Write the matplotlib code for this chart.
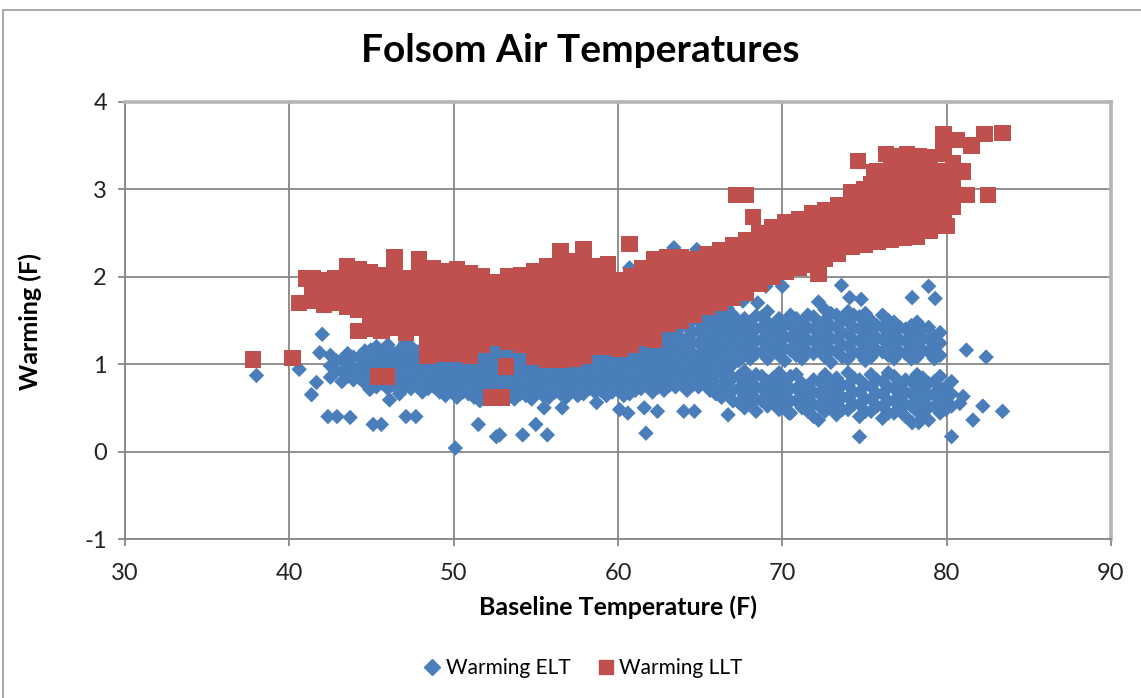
import matplotlib
matplotlib.use("Agg")
import matplotlib.pyplot as plt
from matplotlib.patches import Rectangle
from matplotlib.lines import Line2D

plt.rcParams['font.family'] = ['Lato', 'DejaVu Sans']
plt.rcParams['axes.unicode_minus'] = False

# ---------------- data ----------------
title = "Folsom Air Temperatures"
xlabel = "Baseline Temperature (F)"
ylabel = "Warming (F)"
series_names = ["Warming ELT", "Warming LLT"]
xticks = [30, 40, 50, 60, 70, 80, 90]
yticks = [-1, 0, 1, 2, 3, 4]

# Warming LLT (red squares): columns of (baseline temperature, [warming values])
llt_columns = [
    (41.4, [1.72, 1.88, 1.98]),
    (42.1, [1.68, 1.82, 1.96]),
    (42.8, [1.70, 1.85, 1.98]),
    (43.5, [1.66, 1.80, 1.95, 2.12]),
    (44.2, [1.38, 1.62, 1.78, 1.92, 2.08]),
    (44.9, [1.40, 1.56, 1.72, 1.88, 2.05]),
    (45.6, [1.38, 1.52, 1.68, 1.84, 2.02]),
    (46.4, [1.42, 1.58, 1.74, 1.90, 2.05, 2.22]),
    (47.1, [1.36, 1.52, 1.68, 1.84, 1.98]),
    (47.9, [1.42, 1.58, 1.74, 1.90, 2.06, 2.20]),
    (48.4, [1.10, 1.28]),
    (48.7, [1.45, 1.62, 1.78, 1.95, 2.10]),
    (49.3, [1.12, 1.30]),
    (49.5, [1.45, 1.60, 1.76, 1.92, 2.06]),
    (50.2, [1.12, 1.28, 1.44, 1.60, 1.76, 1.92, 2.08]),
    (51.0, [1.10, 1.26, 1.42, 1.58, 1.74, 1.90, 2.04]),
    (51.7, [1.22, 1.38, 1.54, 1.70, 1.86, 2.00]),
    (52.5, [1.30, 1.46, 1.62, 1.78, 1.94]),
    (53.3, [1.25, 1.40, 1.56, 1.72, 1.88, 2.00]),
    (54.1, [1.22, 1.38, 1.54, 1.70, 1.86, 2.02]),
    (54.9, [1.08, 1.24, 1.40, 1.56, 1.72, 1.88, 2.06]),
    (55.7, [1.05, 1.20, 1.36, 1.52, 1.68, 1.84, 2.00, 2.12]),
    (56.5, [1.05, 1.20, 1.36, 1.52, 1.68, 1.84, 2.00, 2.16, 2.29]),
    (57.3, [1.06, 1.22, 1.38, 1.54, 1.70, 1.86, 2.02, 2.18]),
    (57.9, [1.10, 1.26, 1.42, 1.58, 1.74, 1.90, 2.06, 2.20, 2.31]),
    (58.6, [1.20, 1.36, 1.52, 1.68, 1.84, 2.00, 2.12]),
    (59.4, [1.20, 1.36, 1.52, 1.68, 1.84, 2.00, 2.14]),
    (60.1, [1.17, 1.32, 1.48, 1.64, 1.80, 1.96]),
    (60.8, [1.22, 1.38, 1.54, 1.70, 1.86, 2.00]),
    (61.5, [1.30, 1.46, 1.62, 1.78, 1.94, 2.10]),
    (62.2, [1.28, 1.44, 1.60, 1.76, 1.92, 2.08, 2.20]),
    (63.0, [1.46, 1.62, 1.78, 1.94, 2.10, 2.22]),
    (63.8, [1.50, 1.66, 1.82, 1.98, 2.14, 2.22]),
    (64.6, [1.56, 1.72, 1.88, 2.04, 2.20]),
    (65.4, [1.65, 1.80, 1.96, 2.12, 2.26]),
    (66.2, [1.70, 1.86, 2.02, 2.18, 2.30]),
    (67.0, [1.76, 1.92, 2.08, 2.24, 2.36]),
    (67.8, [1.82, 1.98, 2.14, 2.30, 2.42]),
    (68.6, [1.92, 2.08, 2.24, 2.40, 2.50]),
    (69.4, [2.00, 2.16, 2.32, 2.48, 2.56]),
    (70.2, [2.06, 2.22, 2.38, 2.54, 2.62]),
    (71.0, [2.10, 2.26, 2.42, 2.58, 2.66]),
    (71.8, [2.14, 2.30, 2.46, 2.62, 2.72]),
    (72.6, [2.20, 2.36, 2.52, 2.68, 2.76]),
    (73.4, [2.26, 2.42, 2.58, 2.74, 2.82]),
    (74.2, [2.34, 2.50, 2.66, 2.82, 2.96]),
    (75.0, [2.36, 2.52, 2.68, 2.84, 3.00]),
    (75.8, [2.40, 2.56, 2.72, 2.88, 3.04, 3.20]),
    (76.6, [2.42, 2.58, 2.74, 2.90, 3.06, 3.22]),
    (77.4, [2.44, 2.60, 2.76, 2.92, 3.08, 3.22]),
    (78.2, [2.46, 2.62, 2.78, 2.94, 3.10, 3.24]),
    (79.0, [2.52, 2.68, 2.84, 3.00, 3.16, 3.30]),
    (79.8, [2.72, 2.88, 3.04, 3.20, 3.40, 3.55]),
    (80.4, [2.80, 2.96, 3.12, 3.30]),
]
llt_x_extra = [37.8, 40.2, 40.6, 41.0, 45.4, 45.9, 52.3, 52.9, 53.2, 60.7,
               67.2, 67.8, 68.2, 72.2, 74.6, 75.6, 75.4, 80.0, 82.5, 83.4,
               82.3, 81.5, 81.2, 81.0, 79.8, 80.6, 76.3, 77.0, 77.6, 78.3,
               78.8]
llt_y_extra = [1.05, 1.07, 1.70, 1.98, 0.86, 0.86, 0.62, 0.62, 0.97, 2.37,
               2.93, 2.93, 2.68, 2.03, 3.32, 3.19, 3.06, 2.58, 2.93, 3.64,
               3.63, 3.50, 2.93, 3.20, 3.63, 3.56, 3.40, 3.38, 3.40, 3.38,
               3.37]

# Warming ELT (blue diamonds): columns of (baseline temperature, [warming values])
elt_columns = [
    (42.5, [0.85, 0.98, 1.10]),
    (43.2, [0.80, 0.92, 1.05]),
    (43.9, [0.82, 0.95, 1.08]),
    (44.6, [0.78, 0.90, 1.02, 1.15]),
    (45.3, [0.74, 0.86, 0.98, 1.10, 1.20]),
    (46.0, [0.72, 0.84, 0.96, 1.08, 1.22]),
    (46.7, [0.66, 0.80, 0.92, 1.04, 1.16]),
    (47.4, [0.72, 0.84, 0.96, 1.08, 1.20]),
    (48.1, [0.68, 0.80, 0.92, 1.04, 1.18]),
    (48.8, [0.74, 0.86, 0.98, 1.10, 1.24]),
    (49.5, [0.64, 0.76, 0.88, 1.00, 1.12]),
    (50.2, [0.62, 0.74, 0.86, 0.98, 1.10]),
    (50.9, [0.66, 0.78, 0.90, 1.02, 1.14]),
    (51.6, [0.58, 0.70, 0.82, 0.94, 1.06, 1.18]),
    (52.3, [0.62, 0.74, 0.86, 0.98, 1.10, 1.22]),
    (53.0, [0.66, 0.78, 0.90, 1.02, 1.14]),
    (53.7, [0.60, 0.72, 0.84, 0.96, 1.08, 1.20]),
    (54.4, [0.64, 0.76, 0.88, 1.00, 1.12]),
    (55.1, [0.68, 0.80, 0.92, 1.04]),
    (55.8, [0.62, 0.74, 0.86, 0.98, 1.10]),
    (56.5, [0.66, 0.78, 0.90, 1.02, 1.14]),
    (57.2, [0.70, 0.82, 0.94, 1.06]),
    (57.9, [0.66, 0.78, 0.90, 1.02, 1.14]),
    (58.6, [0.68, 0.80, 0.92, 1.04, 1.16]),
    (59.3, [0.64, 0.76, 0.88, 1.00, 1.12]),
    (60.0, [0.70, 0.82, 0.94, 1.06]),
    (60.7, [0.66, 0.78, 0.90, 1.02, 1.14]),
    (61.4, [0.72, 0.84, 0.96, 1.08, 1.20]),
    (62.1, [0.68, 0.80, 0.92, 1.04, 1.16, 1.30]),
    (62.8, [0.70, 0.82, 0.94, 1.06, 1.18, 1.32, 1.45]),
    (63.5, [0.74, 0.86, 0.98, 1.10, 1.22, 1.36, 1.48]),
    (64.2, [0.70, 0.82, 0.94, 1.06, 1.18, 1.30, 1.44, 1.56]),
    (64.9, [0.74, 0.86, 0.98, 1.10, 1.24, 1.38, 1.50]),
    (65.6, [0.70, 0.82, 0.94, 1.06, 1.20, 1.34, 1.48, 1.62]),
    (66.3, [0.62, 0.76, 0.90, 1.04, 1.18, 1.32, 1.46, 1.60]),
    (67.0, [0.58, 0.70, 0.84, 1.00, 1.14, 1.28, 1.42, 1.56]),
    (67.7, [0.50, 0.64, 0.78, 0.92, 1.10, 1.24, 1.38, 1.52]),
    (68.4, [0.46, 0.60, 0.74, 0.88, 1.12, 1.26, 1.40, 1.55]),
    (69.1, [0.52, 0.66, 0.80, 1.06, 1.20, 1.34, 1.48, 1.60]),
    (69.8, [0.48, 0.62, 0.76, 0.90, 1.10, 1.24, 1.38, 1.52]),
    (70.5, [0.44, 0.58, 0.72, 0.86, 1.16, 1.30, 1.44, 1.56]),
    (71.2, [0.50, 0.64, 0.78, 1.06, 1.20, 1.34, 1.48]),
    (71.9, [0.40, 0.54, 0.68, 0.82, 1.12, 1.26, 1.40, 1.54]),
    (72.6, [0.46, 0.60, 0.74, 0.88, 1.08, 1.22, 1.36, 1.50, 1.62]),
    (73.3, [0.42, 0.56, 0.70, 0.84, 1.14, 1.28, 1.42, 1.56]),
    (74.0, [0.48, 0.62, 0.76, 0.90, 1.06, 1.20, 1.34, 1.48, 1.60]),
    (74.7, [0.40, 0.54, 0.68, 0.82, 1.12, 1.26, 1.40, 1.54]),
    (75.4, [0.46, 0.60, 0.74, 0.88, 1.08, 1.22, 1.36, 1.50]),
    (76.1, [0.38, 0.52, 0.66, 0.80, 1.14, 1.28, 1.42, 1.56]),
    (76.8, [0.44, 0.58, 0.72, 0.86, 1.06, 1.20, 1.34, 1.48]),
    (77.5, [0.40, 0.54, 0.68, 0.82, 1.12, 1.26, 1.40]),
    (78.2, [0.46, 0.60, 0.74, 0.88, 1.08, 1.22, 1.36, 1.48]),
    (78.9, [0.36, 0.50, 0.64, 0.78, 1.14, 1.28, 1.42]),
    (79.6, [0.44, 0.58, 0.72, 0.86, 1.10, 1.24, 1.36]),
    (80.3, [0.52, 0.66, 0.80]),
]
# staggered ELT points lying between the columns above
elt_columns_b = [
    (42.85, [0.92, 1.04]),
    (43.55, [0.86, 0.99, 1.12]),
    (44.25, [0.84, 0.96, 1.08]),
    (44.95, [0.80, 0.92, 1.04, 1.16]),
    (45.65, [0.78, 0.90, 1.02, 1.14]),
    (46.35, [0.76, 0.88, 1.00, 1.12]),
    (47.05, [0.74, 0.86, 0.98, 1.10, 1.24]),
    (47.75, [0.78, 0.90, 1.02, 1.14]),
    (48.45, [0.72, 0.84, 0.96, 1.08, 1.20]),
    (49.15, [0.68, 0.80, 0.92, 1.04, 1.16]),
    (49.85, [0.70, 0.82, 0.94, 1.06]),
    (50.55, [0.68, 0.80, 0.92, 1.04, 1.16]),
    (51.25, [0.62, 0.74, 0.86, 0.98, 1.10]),
    (51.95, [0.66, 0.78, 0.90, 1.02, 1.14]),
    (52.65, [0.68, 0.80, 0.92, 1.04, 1.16]),
    (53.35, [0.62, 0.74, 0.86, 0.98, 1.10]),
    (54.05, [0.66, 0.78, 0.90, 1.02, 1.14]),
    (54.75, [0.60, 0.72, 0.84, 0.96, 1.08]),
    (55.45, [0.64, 0.76, 0.88, 1.00, 1.12]),
    (56.15, [0.68, 0.80, 0.92, 1.04]),
    (56.85, [0.62, 0.74, 0.86, 0.98, 1.10]),
    (57.55, [0.64, 0.76, 0.88, 1.00, 1.12]),
    (58.25, [0.72, 0.84, 0.96, 1.08, 1.20]),
    (58.95, [0.70, 0.82, 0.94, 1.06]),
    (59.65, [0.68, 0.80, 0.92, 1.04, 1.16]),
    (60.35, [0.64, 0.76, 0.88, 1.00, 1.12]),
    (61.05, [0.70, 0.82, 0.94, 1.06, 1.18]),
    (61.75, [0.76, 0.88, 1.00, 1.12, 1.24]),
    (62.45, [0.74, 0.86, 0.98, 1.10, 1.24, 1.38]),
    (63.15, [0.76, 0.88, 1.00, 1.12, 1.26, 1.40]),
    (63.85, [0.80, 0.92, 1.04, 1.16, 1.28, 1.42, 1.54]),
    (64.55, [0.76, 0.88, 1.00, 1.12, 1.24, 1.36, 1.50]),
    (65.25, [0.78, 0.90, 1.02, 1.16, 1.30, 1.44, 1.58]),
    (65.95, [0.66, 0.78, 0.88, 1.00, 1.12, 1.26, 1.40, 1.54]),
    (66.65, [0.68, 0.80, 0.94, 1.08, 1.22, 1.36, 1.50, 1.64]),
    (67.35, [0.56, 0.72, 0.86, 1.04, 1.18, 1.32, 1.46]),
    (68.05, [0.56, 0.70, 0.84, 1.06, 1.18, 1.32, 1.46]),
    (68.75, [0.58, 0.72, 0.86, 1.14, 1.28, 1.42, 1.54]),
    (69.45, [0.56, 0.70, 0.84, 1.16, 1.30, 1.44]),
    (70.15, [0.54, 0.68, 0.82, 1.04, 1.18, 1.32, 1.46]),
    (70.85, [0.58, 0.72, 0.88, 1.10, 1.24, 1.38, 1.52]),
    (71.55, [0.46, 0.60, 0.74, 1.14, 1.28, 1.42, 1.56]),
    (72.25, [0.52, 0.66, 0.80, 1.16, 1.30, 1.44]),
    (72.95, [0.50, 0.64, 0.78, 1.02, 1.16, 1.30, 1.44, 1.58]),
    (73.65, [0.48, 0.62, 0.76, 1.08, 1.22, 1.36, 1.50]),
    (74.35, [0.54, 0.68, 0.84, 1.14, 1.28, 1.42, 1.56]),
    (75.05, [0.46, 0.60, 0.76, 1.04, 1.18, 1.32, 1.46, 1.58]),
    (75.75, [0.52, 0.66, 0.82, 1.16, 1.30, 1.44]),
    (76.45, [0.44, 0.58, 0.74, 0.90, 1.10, 1.24, 1.38, 1.50]),
    (77.15, [0.50, 0.64, 0.78, 1.14, 1.28, 1.42]),
    (77.85, [0.52, 0.66, 0.80, 1.06, 1.18, 1.32, 1.44]),
    (78.55, [0.42, 0.56, 0.70, 0.84, 1.16, 1.30, 1.40]),
    (79.25, [0.52, 0.66, 0.80, 1.06, 1.20, 1.32]),
    (79.95, [0.48, 0.62, 0.74]),
]
elt_x_extra = [38.0, 40.6, 41.35, 41.65, 41.85, 42.0, 42.35, 42.9, 43.7, 45.1,
               45.6, 47.1, 47.7, 44.9, 46.1, 50.1, 51.5, 52.6, 52.8, 54.2,
               55.0, 55.7, 55.5, 56.6, 58.7, 60.1, 60.6, 61.6, 62.4, 61.7,
               64.0, 64.65, 66.7, 60.7, 63.4, 64.8, 45.2, 48.3, 48.7, 56.6,
               68.5, 67.6, 69.0, 70.0, 72.2, 73.6, 74.1, 74.8, 77.9, 78.9,
               79.3, 66.0, 66.9, 74.7, 80.3, 81.2, 82.4, 83.4, 82.2, 81.6,
               81.0, 80.8, 78.3, 77.9, 72.2, 70.4]
elt_y_extra = [0.87, 0.94, 0.65, 0.79, 1.13, 1.34, 0.40, 0.40, 0.39, 0.31,
               0.31, 0.40, 0.40, 0.71, 0.59, 0.04, 0.31, 0.17, 0.19, 0.19,
               0.31, 0.19, 0.50, 0.50, 0.56, 0.48, 0.44, 0.50, 0.46, 0.21,
               0.46, 0.46, 0.42, 2.10, 2.33, 2.31, 1.57, 1.40, 1.45, 1.39,
               1.70, 1.72, 1.89, 1.89, 1.71, 1.90, 1.76, 1.74, 1.76, 1.89,
               1.75, 1.70, 1.57, 0.17, 0.17, 1.16, 1.08, 0.46, 0.52, 0.36,
               0.63, 0.55, 0.33, 0.33, 0.36, 0.44]

# ---------------- assemble ----------------
llt_x = [x for x, ys in llt_columns for _ in ys] + llt_x_extra
llt_y = [y for _, ys in llt_columns for y in ys] + llt_y_extra
elt_all = elt_columns + elt_columns_b
elt_x = [x for x, ys in elt_all for _ in ys] + elt_x_extra
elt_y = [y for _, ys in elt_all for y in ys] + elt_y_extra

blue = "#4A7EBB"
red = "#C0504D"
grid_c = "#878787"

W, H = 1141, 698
fig = plt.figure(figsize=(W / 100, H / 100), dpi=100)
fig.patches.append(Rectangle((3 / W, -0.01), 1.2, 1 - 10 / H + 0.01,
                             transform=fig.transFigure, fill=False,
                             edgecolor="#9A9A9A", linewidth=1.2))

ax = fig.add_axes([125 / W, 1 - 539 / H, 986 / W, 437.3 / H])
ax.set_xlim(30, 90)
ax.set_ylim(-1, 4)
ax.set_xticks(xticks)
ax.set_yticks(yticks)
ax.grid(True, color=grid_c, linewidth=1.3)
ax.set_axisbelow(True)

for side in ["left", "bottom"]:
    ax.spines[side].set_color(grid_c)
    ax.spines[side].set_linewidth(1.3)
for side in ["top", "right"]:
    ax.spines[side].set_color("#B5B5B5")
    ax.spines[side].set_linewidth(2.6)

ax.tick_params(axis="both", direction="out", length=5, width=1.3,
               color=grid_c, labelsize=17, labelcolor="#222222")
ax.tick_params(axis="x", pad=12)
ax.tick_params(axis="y", pad=8)

ax.scatter(elt_x, elt_y, marker="D", s=62, color=blue, edgecolors="none",
           zorder=3)
ax.scatter(llt_x, llt_y, marker="s", s=140, color=red, edgecolors="none",
           zorder=4)

fig.text(580 / W, 1 - 50 / H, title, ha="center", va="center",
         fontsize=28, fontweight="bold")
fig.text(618 / W, 1 - 607 / H, xlabel, ha="center", va="center",
         fontsize=18, fontweight="bold")
fig.text(30 / W, 1 - 322 / H, ylabel, ha="center", va="center",
         rotation=90, fontsize=18, fontweight="bold")

handles = [
    Line2D([], [], marker="D", linestyle="none", color=blue, markersize=8),
    Line2D([], [], marker="s", linestyle="none", color=red, markersize=10),
]
fig.legend(handles, series_names, loc="center",
           bbox_to_anchor=(582 / W, 1 - 668 / H),
           ncol=2, frameon=False, fontsize=15, handletextpad=0.15,
           columnspacing=1.2, handlelength=1.0)

fig.savefig("out.png", dpi=100)
